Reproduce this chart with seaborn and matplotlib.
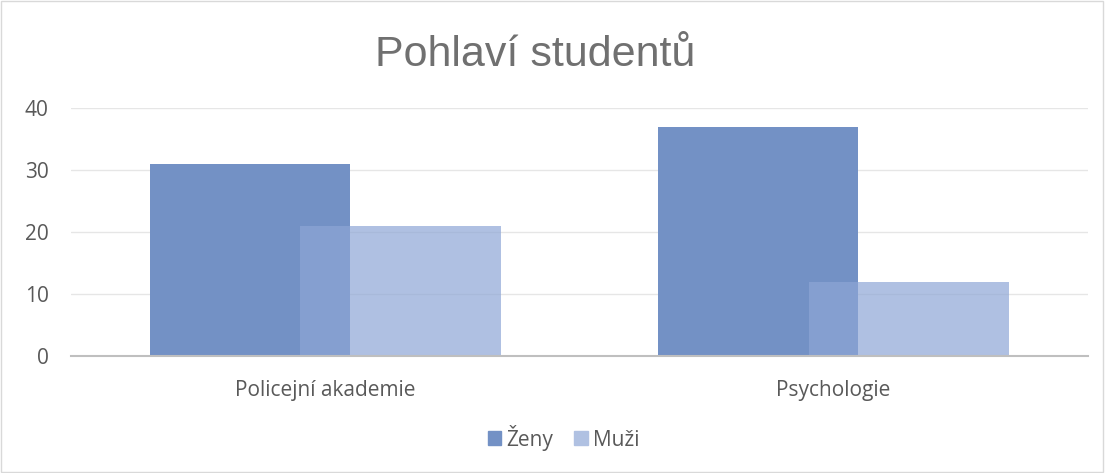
import matplotlib
matplotlib.use("Agg")
import matplotlib.pyplot as plt
import seaborn as sns
from matplotlib.patches import Patch, Rectangle

# data
categories = ["Policejní akademie", "Psychologie"]
zeny = [31, 37]
muzi = [21, 12]
series_labels = ["Ženy", "Muži"]
y_ticks = [0, 10, 20, 30, 40]

sns.set_theme(style="white")
plt.rcParams["font.family"] = ["Open Sans", "DejaVu Sans"]

c_zeny = "#7391C5"
c_muzi = "#8EA6D6"
text_col = "#595959"

fig = plt.figure(figsize=(11.05, 4.73), dpi=100)
ax = fig.add_axes([0.0643, 0.2474, 0.92, 0.5243])

w = 0.394
shift = 0.148
sns.barplot(x=categories, y=zeny, color=c_zeny, width=w, ax=ax,
            saturation=1, linewidth=0)
for p in ax.patches[:2]:
    p.set_x(p.get_x() - shift)
sns.barplot(x=categories, y=muzi, color=c_muzi, width=w, ax=ax,
            saturation=1, linewidth=0, alpha=0.7)
for p in ax.patches[2:]:
    p.set_x(p.get_x() + shift)

ax.set_xlim(-0.5, 1.5)
ax.set_ylim(0, 40)
ax.set_yticks(y_ticks)
ax.yaxis.grid(True, color="#E6E6E6", linewidth=1)
ax.set_axisbelow(True)
for s in ["top", "right", "left"]:
    ax.spines[s].set_visible(False)
ax.spines["bottom"].set_color("#BFBFBF")
ax.spines["bottom"].set_linewidth(1.5)
ax.tick_params(axis="both", length=0, labelsize=15, colors=text_col)
ax.tick_params(axis="x", pad=17)
ax.tick_params(axis="y", pad=16)
ax.set_xlabel("")
ax.set_ylabel("")

fig.text(0.484, 0.884, "Pohlaví studentů", ha="center", va="center",
         fontsize=31, color="#707070", family=["Liberation Sans", "DejaVu Sans"])

handles = [Patch(color=c_zeny), Patch(color="#B0C1E2")]
fig.legend(handles, series_labels, loc="center", bbox_to_anchor=(0.51, 0.075),
           ncol=2, frameon=False, fontsize=15, handlelength=0.65,
           handleheight=0.65, handletextpad=0.25, columnspacing=1.0,
           labelcolor=text_col)

fig.patches.append(Rectangle((0.001, 0.002), 0.997, 0.995, transform=fig.transFigure,
                             fill=False, edgecolor="#D9D9D9", linewidth=1))

fig.savefig("out.png", dpi=100)
